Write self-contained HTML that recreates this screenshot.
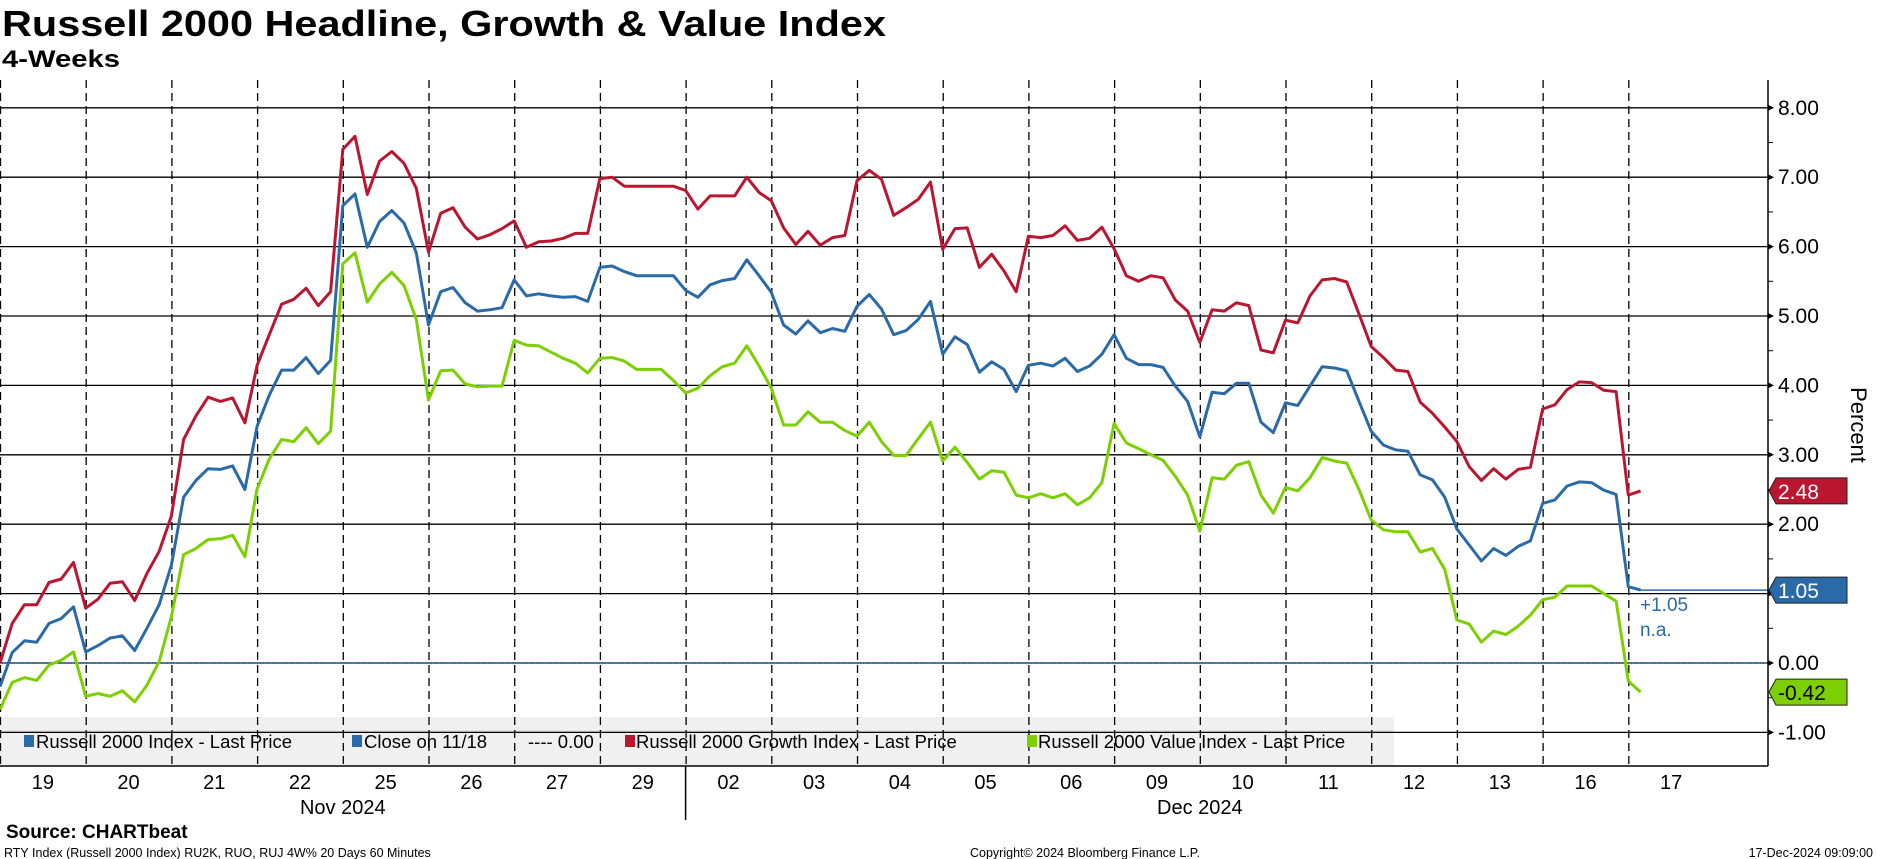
<!DOCTYPE html>
<html><head><meta charset="utf-8">
<style>
html,body{margin:0;padding:0;background:#fff;}
body{width:1877px;height:859px;overflow:hidden;position:relative;font-family:"Liberation Sans","DejaVu Sans",sans-serif;}
svg{position:absolute;left:0;top:0;}
</style></head>
<body>
<svg id="chart" width="1877" height="859" viewBox="0 0 1877 859">
<text x="2" y="36" font-size="36" font-weight="bold" textLength="884" lengthAdjust="spacingAndGlyphs" font-family="Liberation Sans, sans-serif">Russell 2000 Headline, Growth &amp; Value Index</text>
<text x="2" y="67" font-size="24" font-weight="bold" textLength="118" lengthAdjust="spacingAndGlyphs" font-family="Liberation Sans, sans-serif">4-Weeks</text>
<g id="legend"></g>
<g id="grid"></g>
<g id="legendtext"></g>
<g id="series"></g>
<g id="axes"></g>
<text x="6" y="838" font-size="19" font-weight="bold">Source: CHARTbeat</text>
<text x="4" y="857" font-size="12.5">RTY Index (Russell 2000 Index) RU2K, RUO, RUJ 4W% 20 Days 60 Minutes</text>
<text x="970" y="857" font-size="12.5">Copyright© 2024 Bloomberg Finance L.P.</text>
<text x="1873" y="857" font-size="12.5" text-anchor="end">17-Dec-2024 09:09:00</text>
</svg>
<script>
const dayLabels=['19','20','21','22','25','26','27','29','02','03','04','05','06','09','10','11','12','13','16','17'];
const yTicks=[8,7,6,5,4,3,2,1,0,-1];
const growth=[0.0,0.57,0.84,0.84,1.16,1.21,1.45,0.79,0.92,1.15,1.17,0.90,1.29,1.61,2.12,3.22,3.56,3.83,3.77,3.82,3.46,4.29,4.73,5.17,5.24,5.40,5.15,5.35,7.40,7.59,6.75,7.23,7.37,7.20,6.84,5.92,6.48,6.56,6.28,6.11,6.17,6.26,6.37,5.99,6.07,6.08,6.12,6.19,6.19,6.98,7.0,6.87,6.87,6.87,6.87,6.87,6.81,6.54,6.73,6.73,6.73,7.0,6.78,6.66,6.27,6.03,6.22,6.02,6.13,6.16,6.95,7.10,6.97,6.45,6.56,6.68,6.93,5.96,6.26,6.27,5.70,5.89,5.65,5.35,6.15,6.13,6.16,6.30,6.09,6.12,6.28,5.97,5.58,5.50,5.58,5.55,5.23,5.07,4.62,5.09,5.07,5.19,5.15,4.51,4.47,4.94,4.90,5.29,5.52,5.54,5.49,5.03,4.56,4.40,4.22,4.20,3.76,3.60,3.40,3.19,2.83,2.63,2.80,2.65,2.79,2.82,3.66,3.72,3.94,4.05,4.04,3.93,3.91,2.42,2.48];
const headline=[-0.34,0.15,0.32,0.30,0.57,0.64,0.81,0.16,0.25,0.36,0.39,0.18,0.50,0.84,1.41,2.39,2.63,2.80,2.79,2.84,2.50,3.41,3.86,4.22,4.22,4.40,4.17,4.36,6.59,6.76,5.99,6.36,6.52,6.34,5.91,4.87,5.35,5.41,5.19,5.07,5.09,5.12,5.52,5.29,5.32,5.29,5.27,5.28,5.21,5.70,5.72,5.64,5.58,5.58,5.58,5.58,5.37,5.27,5.45,5.51,5.54,5.81,5.58,5.34,4.87,4.74,4.93,4.76,4.82,4.78,5.14,5.31,5.10,4.73,4.79,4.95,5.21,4.45,4.70,4.59,4.19,4.34,4.23,3.91,4.29,4.32,4.28,4.39,4.20,4.28,4.45,4.73,4.39,4.30,4.30,4.26,3.99,3.77,3.26,3.90,3.88,4.03,4.03,3.47,3.32,3.75,3.71,3.99,4.27,4.25,4.21,3.77,3.34,3.14,3.07,3.05,2.71,2.64,2.39,1.93,1.70,1.47,1.65,1.55,1.68,1.76,2.30,2.35,2.55,2.61,2.60,2.49,2.43,1.10,1.05];
const value=[-0.67,-0.28,-0.21,-0.25,-0.03,0.04,0.16,-0.48,-0.44,-0.48,-0.40,-0.56,-0.32,0.02,0.67,1.56,1.65,1.78,1.79,1.84,1.53,2.51,2.94,3.22,3.19,3.39,3.16,3.34,5.75,5.91,5.20,5.46,5.63,5.44,4.95,3.79,4.21,4.22,4.02,3.98,3.99,3.99,4.65,4.58,4.57,4.48,4.39,4.32,4.18,4.39,4.40,4.35,4.23,4.23,4.23,4.07,3.89,3.96,4.14,4.27,4.32,4.57,4.28,3.96,3.43,3.43,3.62,3.47,3.47,3.35,3.27,3.47,3.19,2.99,2.99,3.23,3.47,2.91,3.11,2.89,2.65,2.77,2.75,2.42,2.38,2.44,2.38,2.44,2.28,2.38,2.60,3.45,3.17,3.09,3.00,2.92,2.69,2.42,1.90,2.67,2.65,2.85,2.90,2.42,2.16,2.53,2.48,2.67,2.96,2.91,2.88,2.50,2.06,1.92,1.89,1.89,1.60,1.65,1.35,0.62,0.56,0.30,0.46,0.41,0.53,0.69,0.91,0.95,1.11,1.11,1.11,1.00,0.89,-0.26,-0.42];
const closeLevel=[1.05];
const legendLabels=['Russell 2000 Index - Last Price','Close on 11/18','---- 0.00','Russell 2000 Growth Index - Last Price','Russell 2000 Value Index - Last Price'];

const NS='http://www.w3.org/2000/svg';
const PER_DAY=7, DX=12.243, AXIS_X=1768, TOP=80, BOTTOM=766;
function xScale(i){return i*DX;}
function yScale(v){return 663-v*69.4;}
function mk(tag,attrs,parent){const e=document.createElementNS(NS,tag);for(const k in attrs)e.setAttribute(k,attrs[k]);parent.appendChild(e);return e;}
const grid=document.getElementById('grid'),axes=document.getElementById('axes'),ser=document.getElementById('series'),leg=document.getElementById('legend'),legt=document.getElementById('legendtext');

const band=mk('rect',{x:0,y:717,width:1394,height:48,fill:'#f0f0f0'},leg);


mk('line',{x1:0,x2:1394,y1:731,y2:731,stroke:'#d8d8d8'},leg);

yTicks.forEach(v=>{
  const l=mk('line',{x1:0,x2:AXIS_X,y1:yScale(v),y2:yScale(v),stroke:'#000','stroke-width':1.3},grid);
  
  
  const t=mk('text',{x:AXIS_X+10,y:yScale(v)+7,'font-size':21},axes);
  t.textContent=v.toFixed(2);
  
  
  mk('path',{d:`M${AXIS_X},${yScale(v)-3}L${AXIS_X+6},${yScale(v)}L${AXIS_X},${yScale(v)+3}Z`,fill:'#000'},axes);
  if(v>-1){const ym=yScale(v-0.5);mk('line',{x1:AXIS_X,x2:AXIS_X+5,y1:ym,y2:ym,stroke:'#000'},axes);}
});
for(let d=0;d<=dayLabels.length-1;d++){
  const x=xScale(d*PER_DAY)+0.5;
  const l=mk('line',{x1:x,x2:x,y1:TOP,y2:BOTTOM,stroke:'#000','stroke-width':1.3,'stroke-dasharray':'8,5'},grid);
  
  
}
dayLabels.forEach((lab,d)=>{
  const t=mk('text',{x:xScale(d*PER_DAY+3.5),y:789,'font-size':20,'text-anchor':'middle'},axes);
  t.textContent=lab;
  
  
});
const z=mk('line',{x1:0,x2:AXIS_X,y1:yScale(0),y2:yScale(0),stroke:'#2a6aa8','stroke-width':1.5,'stroke-dasharray':'2,1'},grid);



const legX=[[24,36],[352,364],[null,528],[625,636],[1027,1038]];
const legC=['#2a6aa8','#2a6aa8',null,'#bb1630','#7ccf00'];
legendLabels.forEach((lab,k)=>{
  const g=mk('g',{},legt);
  
  
  if(legC[k])mk('rect',{x:legX[k][0],y:735,width:10,height:12,fill:legC[k]},g);
  const t=mk('text',{x:legX[k][1],y:748,'font-size':18.5},g);
  t.textContent=lab;
});
mk('line',{x1:0,x2:AXIS_X,y1:BOTTOM,y2:BOTTOM,stroke:'#000','stroke-width':1.5},axes);
mk('line',{x1:AXIS_X,x2:AXIS_X,y1:TOP,y2:BOTTOM,stroke:'#000','stroke-width':1.5},axes);
const sep=mk('line',{x1:xScale(8*PER_DAY),x2:xScale(8*PER_DAY),y1:BOTTOM,y2:820,stroke:'#000','stroke-width':1.5},axes);


[['Nov 2024',xScale(4*PER_DAY)],['Dec 2024',xScale(14*PER_DAY)]].forEach(([s,x])=>{
  const t=mk('text',{x:x,y:814,'font-size':20,'text-anchor':'middle'},axes);
  t.textContent=s;
  
  
});
const pt=mk('text',{x:1851,y:425,'font-size':22,'text-anchor':'middle',transform:'rotate(90 1851 425)'},axes);
pt.textContent='Percent';



const lastI=headline.length-1;
const cl=mk('line',{x1:xScale(lastI),x2:AXIS_X,y1:yScale(closeLevel[0]),y2:yScale(closeLevel[0]),stroke:'#2a6aa8','stroke-width':1.5},ser);


function drawSeries(arr,color,name){
  const d=arr.map((v,i)=>(i?'L':'M')+xScale(i).toFixed(1)+','+yScale(v).toFixed(1)).join('');
  const p=mk('path',{d:d,fill:'none',stroke:color,'stroke-width':3,'stroke-linejoin':'round'},ser);
  
  
}
drawSeries(value,'#7ccf00','value-index-line');
drawSeries(headline,'#2a6aa8','headline-index-line');
drawSeries(growth,'#bb1630','growth-index-line');
function tag(v,color,txtColor,name){
  const y=yScale(v);
  const g=mk('g',{},axes);
  
  
  mk('path',{d:`M${AXIS_X+1},${y}L${AXIS_X+8},${y-13}L${AXIS_X+79},${y-13}L${AXIS_X+79},${y+13}L${AXIS_X+8},${y+13}Z`,fill:color,stroke:'#222','stroke-width':1},g);
  const t=mk('text',{x:AXIS_X+10,y:y+8,'font-size':21,fill:txtColor},g);
  t.textContent=v.toFixed(2);
}
tag(growth[lastI],'#bb1630','#fff','growth-last-tag');
tag(closeLevel[0],'#2a6aa8','#fff','headline-last-tag');
tag(value[lastI],'#7ccf00','#000','value-last-tag');
const c1=mk('text',{x:1640,y:611,'font-size':19,fill:'#2a6aa8'},ser);
c1.textContent='+1.05';


const c2=mk('text',{x:1640,y:636,'font-size':19,fill:'#2a6aa8'},ser);
c2.textContent='n.a.';


</script>
</body></html>
